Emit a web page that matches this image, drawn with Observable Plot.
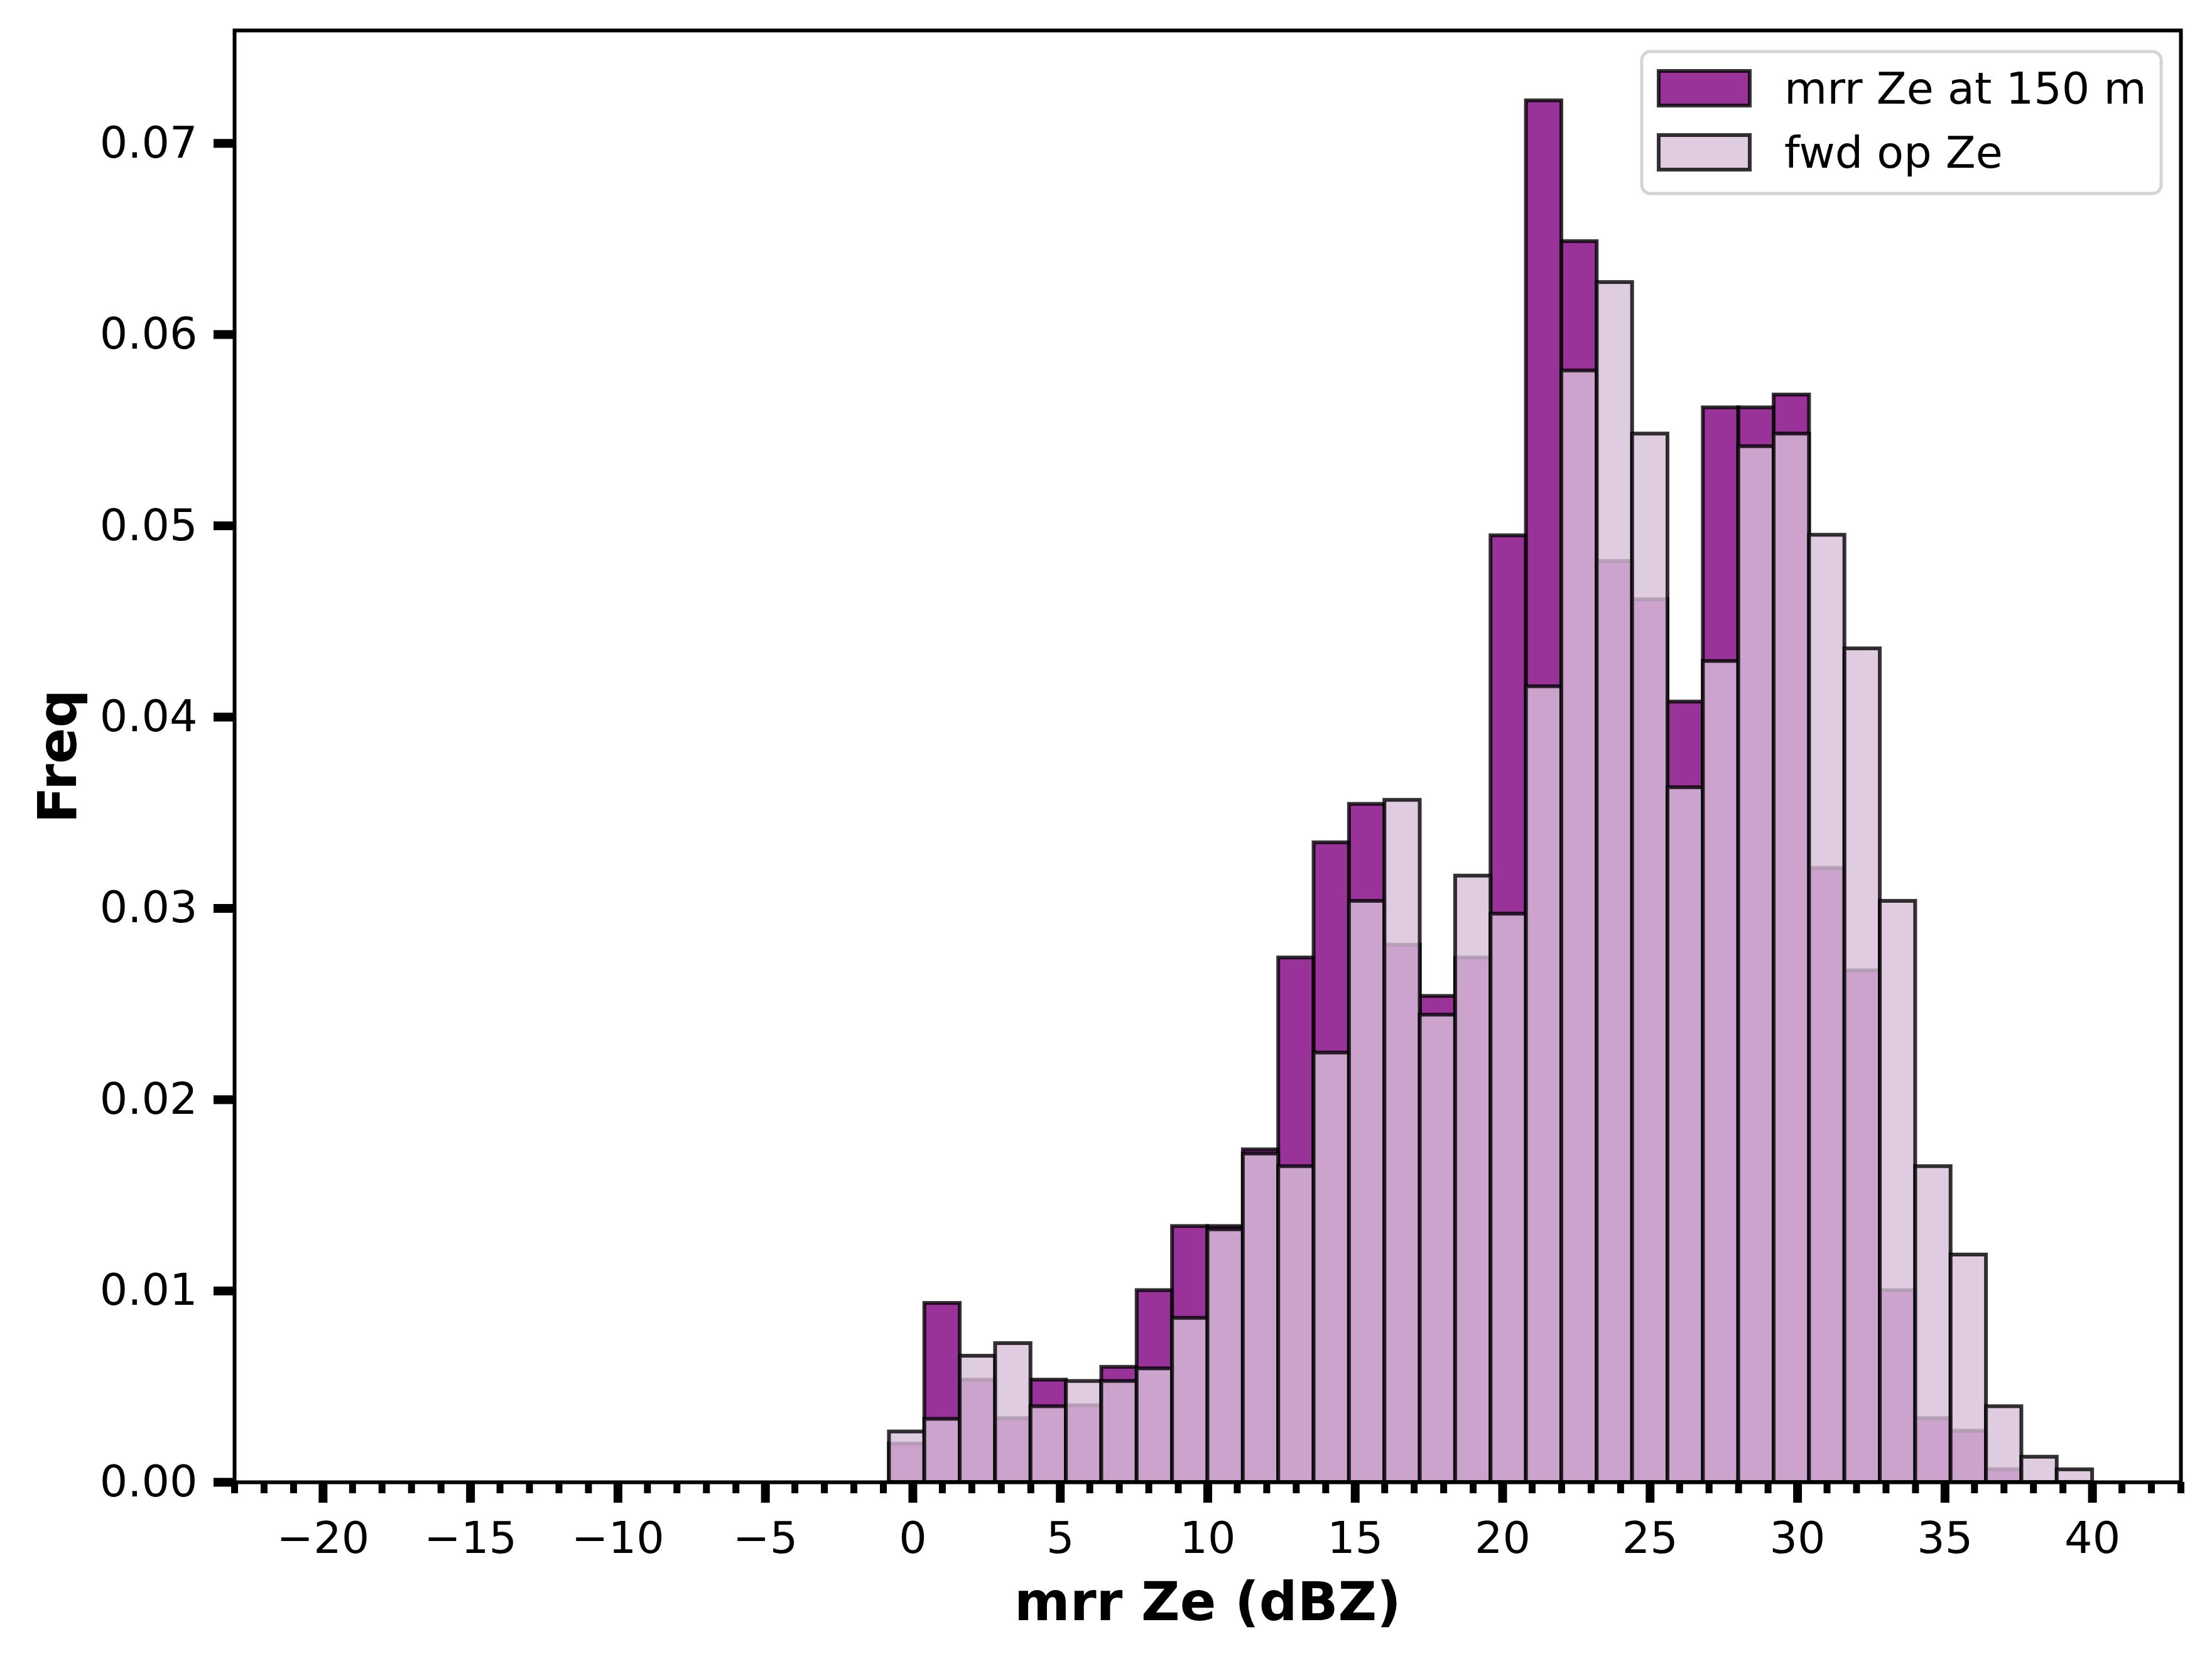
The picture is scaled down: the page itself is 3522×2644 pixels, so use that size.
<!DOCTYPE html>
<html>
<head>
<meta charset="utf-8">
<script src="https://cdn.jsdelivr.net/npm/d3@7"></script>
<script src="https://cdn.jsdelivr.net/npm/@observablehq/plot@0.6"></script>
<style>
html, body { margin: 0; padding: 0; background: #fff; overflow: hidden; }
</style>
</head>
<body>
<div id="chart"></div>
<script>
// ---- data ----
const binEdges = [-0.8, 0.4, 1.6, 2.8, 4.0, 5.2, 6.4, 7.6, 8.8, 10.0, 11.2, 12.4, 13.6, 14.8, 16.0, 17.2, 18.4, 19.6,
  20.8, 22.0, 23.2, 24.4, 25.6, 26.8, 28.0, 29.2, 30.4, 31.6, 32.8, 34.0, 35.2, 36.4, 37.6, 38.8, 40.0];

const mrrFreq = [0.00201, 0.00936, 0.00535, 0.00334, 0.00535, 0.00401, 0.00602, 0.01003, 0.01338, 0.01338,
  0.01739, 0.02742, 0.03344, 0.03545, 0.02809, 0.02541, 0.02742, 0.04949, 0.07223, 0.06487,
  0.04815, 0.04615, 0.04080, 0.05618, 0.05618, 0.05685, 0.03210, 0.02675, 0.01003, 0.00334,
  0.00268, 0.00067, 0, 0];

const fwdFreq = [0.00264, 0.00330, 0.00660, 0.00726, 0.00396, 0.00528, 0.00528, 0.00594, 0.00858, 0.01321,
  0.01717, 0.01651, 0.02245, 0.03038, 0.03566, 0.02443, 0.03170, 0.02971, 0.04160, 0.05811,
  0.06273, 0.05481, 0.03632, 0.04292, 0.05415, 0.05481, 0.04952, 0.04358, 0.03038, 0.01651,
  0.01189, 0.00396, 0.00132, 0.00066];

const seriesNames = ["mrr Ze at 150 m", "fwd op Ze"];
const xMajorTicks = [-20, -15, -10, -5, 0, 5, 10, 15, 20, 25, 30, 35, 40];
const xMinorTicks = [-23, -22, -21, -19, -18, -17, -16, -14, -13, -12, -11, -9, -8, -7, -6, -4, -3, -2, -1,
  1, 2, 3, 4, 6, 7, 8, 9, 11, 12, 13, 14, 16, 17, 18, 19, 21, 22, 23, 24, 26, 27, 28, 29,
  31, 32, 33, 34, 36, 37, 38, 39, 41, 42, 43];
const yTicks = [0, 0.01, 0.02, 0.03, 0.04, 0.05, 0.06, 0.07];
const xLabel = "mrr Ze (dBZ)";
const yLabel = "Freq";

// ---- build ----
const rows = vals => vals.map((v, i) => ({x1: binEdges[i], x2: binEdges[i + 1], y: v}));
const colors = ["purple", "thistle"];
const FONT = "DejaVu Sans";

const chart = Plot.plot({
  width: 3522,
  height: 2644,
  marginLeft: 373,
  marginRight: 50,
  marginTop: 48,
  marginBottom: 285,
  style: {fontFamily: FONT, background: "white", color: "black"},
  x: {domain: [-23, 43]},
  y: {domain: [0, 0.0759]},
  marks: [
    Plot.rect(rows(mrrFreq), {x1: "x1", x2: "x2", y1: 0, y2: "y",
      fill: colors[0], fillOpacity: 0.8, stroke: "black", strokeOpacity: 0.8, strokeWidth: 6}),
    Plot.rect(rows(fwdFreq), {x1: "x1", x2: "x2", y1: 0, y2: "y",
      fill: colors[1], fillOpacity: 0.8, stroke: "black", strokeOpacity: 0.8, strokeWidth: 6}),
    Plot.frame({stroke: "black", strokeWidth: 6}),
    Plot.axisX({ticks: xMinorTicks, tickSize: 18, strokeWidth: 11, tickFormat: () => "", label: null}),
    Plot.axisX({ticks: xMajorTicks, tickSize: 33, strokeWidth: 14, tickPadding: 30, fontSize: 70,
      tickFormat: d => d < 0 ? "\u2212" + Math.abs(d) : String(d), label: null}),
    Plot.axisY({ticks: yTicks, tickSize: 33, strokeWidth: 14, tickPadding: 26, fontSize: 70,
      tickFormat: d3.format(".2f"), label: null}),
    Plot.text([xLabel], {frameAnchor: "bottom", dy: 159, lineAnchor: "top", textAnchor: "middle",
      fontSize: 85, fontWeight: "bold", text: d => d}),
    Plot.text([yLabel], {frameAnchor: "left", dx: -313, rotate: -90, lineAnchor: "top", textAnchor: "middle",
      fontSize: 85, fontWeight: "bold", text: d => d})
  ]
});

// ---- legend (inside plot area, upper right) ----
const svg = d3.select(chart);
const lg = svg.append("g").attr("font-family", FONT).attr("text-anchor", "start");
lg.append("rect")
  .attr("x", 2614).attr("y", 82).attr("width", 827).attr("height", 226)
  .attr("rx", 14).attr("ry", 14)
  .attr("fill", "white").attr("fill-opacity", 0.8)
  .attr("stroke", "#d4d4d4").attr("stroke-width", 5);
seriesNames.forEach((name, i) => {
  const y0 = 113 + i * 102;
  lg.append("rect")
    .attr("x", 2641).attr("y", y0).attr("width", 145).attr("height", 55)
    .attr("fill", colors[i]).attr("fill-opacity", 0.8)
    .attr("stroke", "black").attr("stroke-opacity", 0.8).attr("stroke-width", 6);
  lg.append("text")
    .attr("x", 2841).attr("y", y0 + 52)
    .attr("text-anchor", "start")
    .attr("font-size", 70).attr("fill", "black")
    .text(name);
});

document.getElementById("chart").appendChild(chart);
</script>
</body>
</html>
